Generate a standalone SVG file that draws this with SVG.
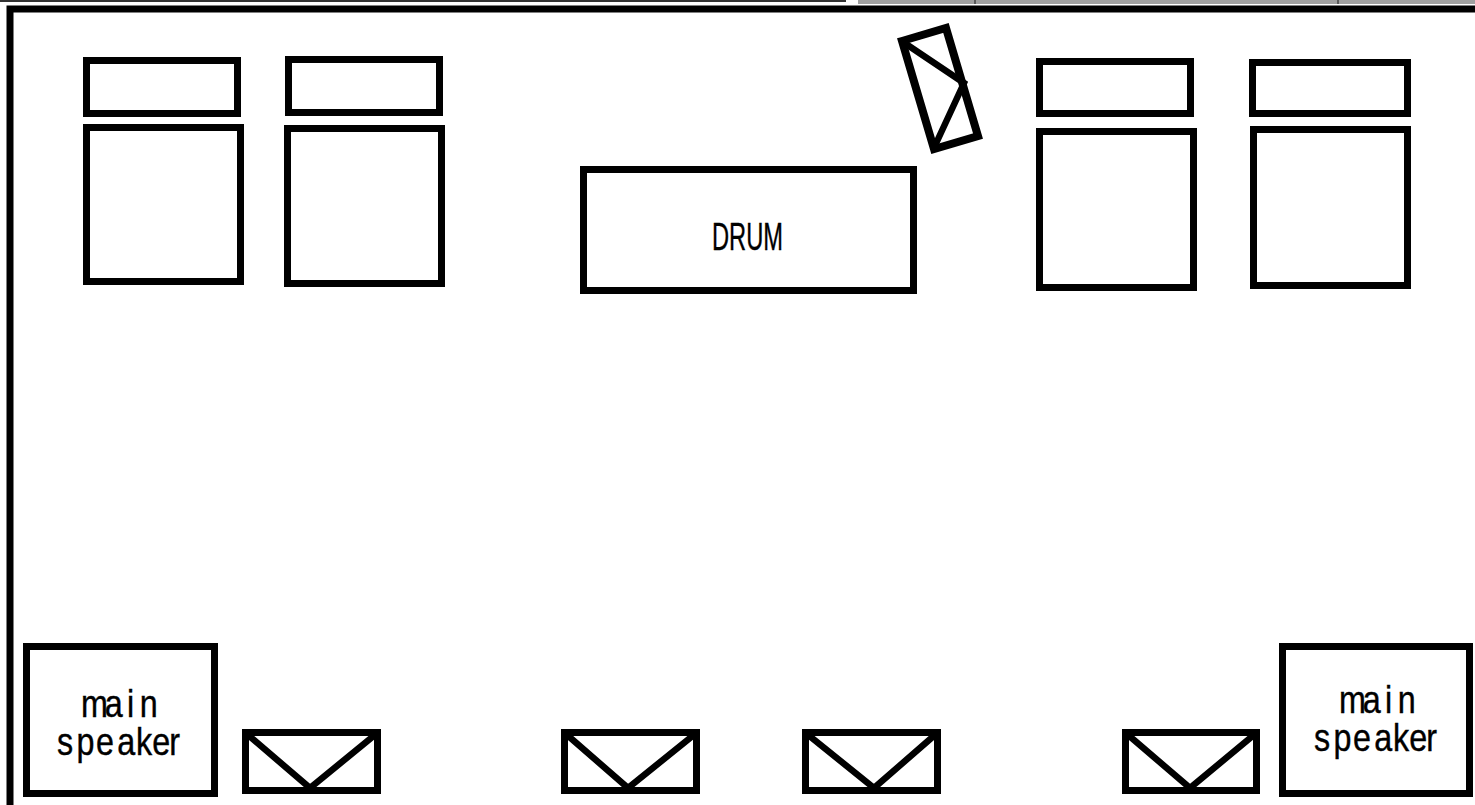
<svg xmlns="http://www.w3.org/2000/svg" width="1475" height="805" viewBox="0 0 1475 805">
<style>
.b{fill:#fff;stroke:#000;stroke-width:7}
.l{fill:none;stroke:#000;stroke-width:6.500}
.t{font-family:"Liberation Sans",Arial,sans-serif;font-size:38px;fill:#000;stroke:#000;stroke-width:.4}
</style>
<rect width="1475" height="805" fill="#fff"/>
<rect id="titlebar-left" x="0" y="0" width="846" height="2" fill="#333"/>
<g id="titlebar-right">
<rect x="858" y="0" width="617" height="4" fill="#a0a0a0"/>
<path d="M975 0V4M1338 0V4" stroke="#444" stroke-width="1.5"/>
</g>
<path id="frame" d="M10 805V9H1475" fill="none" stroke="#000" stroke-width="7"/>
<g id="amp1-head"><rect class="b" x="86.500" y="60.500" width="151" height="53"/></g>
<g id="amp1"><rect class="b" x="86.500" y="127.500" width="154" height="154"/></g>
<g id="amp2-head"><rect class="b" x="288.500" y="59.500" width="151" height="53"/></g>
<g id="amp2"><rect class="b" x="287.500" y="128.500" width="154" height="155"/></g>
<g id="amp3-head"><rect class="b" x="1039.500" y="61.500" width="151" height="52"/></g>
<g id="amp3"><rect class="b" x="1039.500" y="131.500" width="154" height="156"/></g>
<g id="amp4-head"><rect class="b" x="1252.500" y="62.500" width="155" height="51"/></g>
<g id="amp4"><rect class="b" x="1253.500" y="129.500" width="154" height="156"/></g>
<g id="drum"><rect class="b" x="583.500" y="169.500" width="330" height="121"/>
<text class="t" x="712" y="250" textLength="71" lengthAdjust="spacingAndGlyphs">DRUM</text></g>
<g id="monitor-tilted"><path class="b" style="stroke-width:8" d="M902 41L946 28L978 136L934 149Z"/>
<path class="l" d="M903 42L964 83L933 150"/></g>
<g id="speaker-left"><rect class="b" x="26.500" y="646.500" width="188" height="147"/>
<text class="t" transform="translate(81 717) scale(.85 1)" x="0 28 54 69" y="0">main</text>
<text class="t" transform="translate(57 755) scale(.85 1)" x="0 23 46 71 93 112 132" y="0">speaker</text></g>
<g id="speaker-right"><rect class="b" x="1282.500" y="646.500" width="187" height="147"/>
<text class="t" transform="translate(1339 713) scale(.85 1)" x="0 28 54 69" y="0">main</text>
<text class="t" transform="translate(1314 751) scale(.85 1)" x="0 23 46 71 93 112 132" y="0">speaker</text></g>
<g id="monitor1"><rect class="b" x="245.500" y="732.500" width="132" height="58"/><path class="l" d="M247 734L310 788L376 734"/></g>
<g id="monitor2"><rect class="b" x="564.500" y="732.500" width="132" height="58"/><path class="l" d="M566 734L628 788L695 734"/></g>
<g id="monitor3"><rect class="b" x="805.500" y="732.500" width="132" height="58"/><path class="l" d="M807 734L874 788L936 734"/></g>
<g id="monitor4"><rect class="b" x="1125.500" y="732.500" width="131" height="58"/><path class="l" d="M1127 734L1190 788L1255 734"/></g>
<g id="connectors"></g>
</svg>
